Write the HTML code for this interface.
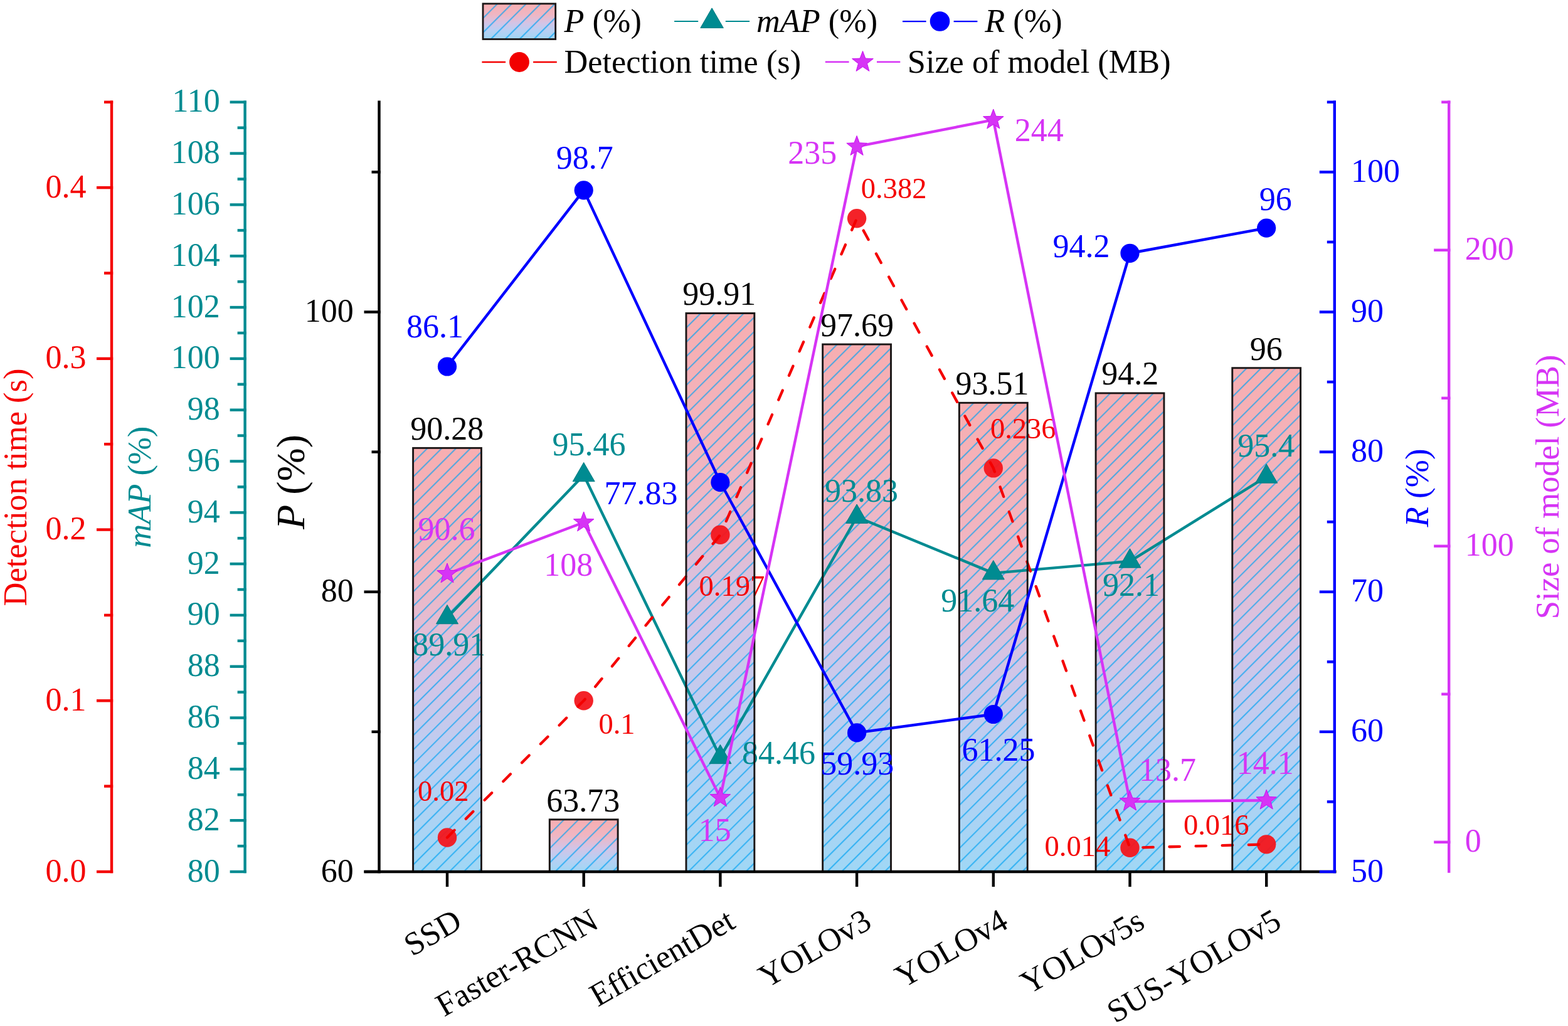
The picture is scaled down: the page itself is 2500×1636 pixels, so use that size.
<!DOCTYPE html>
<html><head><meta charset="utf-8"><title>Model comparison chart</title>
<style>html,body{margin:0;padding:0;background:#fff;overflow:hidden}svg{display:block}text{font-family:"Liberation Serif","Times New Roman",serif}</style></head><body>
<svg width="2500" height="1636" viewBox="0 0 2500 1636">
<defs>
<linearGradient id="g" x1="0" y1="0" x2="0" y2="1"><stop offset="0" stop-color="#f7aeb1"/><stop offset="0.3" stop-color="#f0b6c2"/><stop offset="0.55" stop-color="#d3c4e6"/><stop offset="0.75" stop-color="#b8cff3"/><stop offset="1" stop-color="#a0d7f5"/></linearGradient>
<pattern id="h0" width="16.2" height="16.2" patternUnits="userSpaceOnUse" patternTransform="translate(658.58 714.37) rotate(45)"><path d="M0.3 -1V17.2M16.5 -1V17.2" stroke="#00a2f2" stroke-opacity="0.78" stroke-width="1.8"/></pattern>
<pattern id="h1" width="16.2" height="16.2" patternUnits="userSpaceOnUse" patternTransform="translate(876.28 1306.77) rotate(45)"><path d="M0.3 -1V17.2M16.5 -1V17.2" stroke="#00a2f2" stroke-opacity="0.78" stroke-width="1.8"/></pattern>
<pattern id="h2" width="16.2" height="16.2" patternUnits="userSpaceOnUse" patternTransform="translate(1093.98 499.5) rotate(45)"><path d="M0.3 -1V17.2M16.5 -1V17.2" stroke="#00a2f2" stroke-opacity="0.78" stroke-width="1.8"/></pattern>
<pattern id="h3" width="16.2" height="16.2" patternUnits="userSpaceOnUse" patternTransform="translate(1311.67 549.03) rotate(45)"><path d="M0.3 -1V17.2M16.5 -1V17.2" stroke="#00a2f2" stroke-opacity="0.78" stroke-width="1.8"/></pattern>
<pattern id="h4" width="16.2" height="16.2" patternUnits="userSpaceOnUse" patternTransform="translate(1529.38 642.3) rotate(45)"><path d="M0.3 -1V17.2M16.5 -1V17.2" stroke="#00a2f2" stroke-opacity="0.78" stroke-width="1.8"/></pattern>
<pattern id="h5" width="16.2" height="16.2" patternUnits="userSpaceOnUse" patternTransform="translate(1747.08 626.9) rotate(45)"><path d="M0.3 -1V17.2M16.5 -1V17.2" stroke="#00a2f2" stroke-opacity="0.78" stroke-width="1.8"/></pattern>
<pattern id="h6" width="16.2" height="16.2" patternUnits="userSpaceOnUse" patternTransform="translate(1964.77 586.74) rotate(45)"><path d="M0.3 -1V17.2M16.5 -1V17.2" stroke="#00a2f2" stroke-opacity="0.78" stroke-width="1.8"/></pattern>
<pattern id="hl" width="16.2" height="16.2" patternUnits="userSpaceOnUse" patternTransform="translate(770 5.9) rotate(45)"><path d="M0.3 -1V17.2M16.5 -1V17.2" stroke="#00a2f2" stroke-opacity="0.78" stroke-width="1.8"/></pattern>
</defs>
<rect width="2500" height="1636" fill="#fff"/>
<rect x="658.58" y="714.37" width="108.85" height="675.63" fill="url(#g)"/>
<rect x="658.58" y="714.37" width="108.85" height="675.63" fill="url(#h0)"/>
<rect x="876.28" y="1306.77" width="108.85" height="83.23" fill="url(#g)"/>
<rect x="876.28" y="1306.77" width="108.85" height="83.23" fill="url(#h1)"/>
<rect x="1093.98" y="499.5" width="108.85" height="890.5" fill="url(#g)"/>
<rect x="1093.98" y="499.5" width="108.85" height="890.5" fill="url(#h2)"/>
<rect x="1311.67" y="549.03" width="108.85" height="840.97" fill="url(#g)"/>
<rect x="1311.67" y="549.03" width="108.85" height="840.97" fill="url(#h3)"/>
<rect x="1529.38" y="642.3" width="108.85" height="747.7" fill="url(#g)"/>
<rect x="1529.38" y="642.3" width="108.85" height="747.7" fill="url(#h4)"/>
<rect x="1747.08" y="626.9" width="108.85" height="763.1" fill="url(#g)"/>
<rect x="1747.08" y="626.9" width="108.85" height="763.1" fill="url(#h5)"/>
<rect x="1964.77" y="586.74" width="108.85" height="803.26" fill="url(#g)"/>
<rect x="1964.77" y="586.74" width="108.85" height="803.26" fill="url(#h6)"/>
<polyline points="713,984.61 930.7,757.58 1148.4,1207.56 1366.1,824.26 1583.8,913.85 1801.5,895.03 2019.2,760.04" fill="none" stroke="#008b91" stroke-width="4.4" stroke-linejoin="round"/>
<polygon points="713,964.41 730.5,994.72 695.5,994.72" fill="#008b91" stroke="#007c82" stroke-width="1" stroke-linejoin="round"/>
<polygon points="930.7,737.38 948.2,767.69 913.2,767.69" fill="#008b91" stroke="#007c82" stroke-width="1" stroke-linejoin="round"/>
<polygon points="1148.4,1187.35 1165.9,1217.66 1130.9,1217.66" fill="#008b91" stroke="#007c82" stroke-width="1" stroke-linejoin="round"/>
<polygon points="1366.1,804.05 1383.6,834.36 1348.6,834.36" fill="#008b91" stroke="#007c82" stroke-width="1" stroke-linejoin="round"/>
<polygon points="1583.8,893.64 1601.3,923.95 1566.3,923.95" fill="#008b91" stroke="#007c82" stroke-width="1" stroke-linejoin="round"/>
<polygon points="1801.5,874.82 1819,905.13 1784,905.13" fill="#008b91" stroke="#007c82" stroke-width="1" stroke-linejoin="round"/>
<polygon points="2019.2,739.83 2036.7,770.14 2001.7,770.14" fill="#008b91" stroke="#007c82" stroke-width="1" stroke-linejoin="round"/>
<circle cx="713" cy="1335.46" r="15.2" fill="#f3161c" fill-opacity="0.95"/>
<circle cx="930.7" cy="1117.29" r="15.2" fill="#f3161c" fill-opacity="0.95"/>
<circle cx="1148.4" cy="852.76" r="15.2" fill="#f3161c" fill-opacity="0.95"/>
<circle cx="1366.1" cy="348.24" r="15.2" fill="#f3161c" fill-opacity="0.95"/>
<circle cx="1583.8" cy="746.4" r="15.2" fill="#f3161c" fill-opacity="0.95"/>
<circle cx="1801.5" cy="1351.82" r="15.2" fill="#f3161c" fill-opacity="0.95"/>
<circle cx="2019.2" cy="1346.37" r="15.2" fill="#f3161c" fill-opacity="0.95"/>
<polyline points="713,1335.46 930.7,1117.29 1148.4,852.76 1366.1,348.24 1583.8,746.4 1801.5,1351.82 2019.2,1346.37" fill="none" stroke="#f40000" stroke-width="4.3" stroke-linejoin="round" stroke-linecap="round" stroke-dasharray="16.4 25.75"/>
<text x="657.19" y="1045.2" font-size="52" fill="#008b91">89.91</text>
<text x="880.53" y="726.2" font-size="52" fill="#008b91">95.46</text>
<text x="1182.9" y="1217.5" font-size="52" fill="#008b91">84.46</text>
<text x="1314.89" y="799.5" font-size="52" fill="#008b91">93.83</text>
<text x="1500.35" y="974.6" font-size="52" fill="#008b91">91.64</text>
<text x="1758.01" y="950.3" font-size="52" fill="#008b91">92.1</text>
<text x="1973.14" y="728.3" font-size="52" fill="#008b91">95.4</text>
<text x="666.02" y="1276.9" font-size="46.5" fill="#f40000">0.02</text>
<text x="954.46" y="1170.1" font-size="46.5" fill="#f40000">0.1</text>
<text x="1114.61" y="950.3" font-size="46.5" fill="#f40000">0.197</text>
<text x="1372.79" y="316.3" font-size="46.5" fill="#f40000">0.382</text>
<text x="1578.91" y="699.3" font-size="46.5" fill="#f40000">0.236</text>
<text x="1665.56" y="1365.1" font-size="46.5" fill="#f40000">0.014</text>
<text x="1886.91" y="1331.1" font-size="46.5" fill="#f40000">0.016</text>
<text x="666.43" y="860.7" font-size="52" fill="#d634f5">90.6</text>
<text x="867.3" y="918" font-size="52" fill="#d634f5">108</text>
<text x="1113.67" y="1340.8" font-size="52" fill="#d634f5">15</text>
<text x="1256.37" y="261" font-size="52" fill="#d634f5">235</text>
<text x="1617.72" y="225.2" font-size="52" fill="#d634f5">244</text>
<text x="1815.91" y="1245.4" font-size="52" fill="#d634f5">13.7</text>
<text x="1971.69" y="1233.5" font-size="52" fill="#d634f5">14.1</text>
<text x="654.33" y="700.7" font-size="52" fill="#000000">90.28</text>
<text x="871.34" y="1293.7" font-size="52" fill="#000000">63.73</text>
<text x="1088.21" y="486.2" font-size="52" fill="#000000">99.91</text>
<text x="1307.89" y="535.8" font-size="52" fill="#000000">97.69</text>
<text x="1523.51" y="629.2" font-size="52" fill="#000000">93.51</text>
<text x="1756.29" y="613.4" font-size="52" fill="#000000">94.2</text>
<text x="1992.84" y="573.6" font-size="52" fill="#000000">96</text>
<rect x="658.58" y="714.37" width="108.85" height="675.63" fill="none" stroke="#1b1616" stroke-width="2.9"/>
<rect x="876.28" y="1306.77" width="108.85" height="83.23" fill="none" stroke="#1b1616" stroke-width="2.9"/>
<rect x="1093.98" y="499.5" width="108.85" height="890.5" fill="none" stroke="#1b1616" stroke-width="2.9"/>
<rect x="1311.67" y="549.03" width="108.85" height="840.97" fill="none" stroke="#1b1616" stroke-width="2.9"/>
<rect x="1529.38" y="642.3" width="108.85" height="747.7" fill="none" stroke="#1b1616" stroke-width="2.9"/>
<rect x="1747.08" y="626.9" width="108.85" height="763.1" fill="none" stroke="#1b1616" stroke-width="2.9"/>
<rect x="1964.77" y="586.74" width="108.85" height="803.26" fill="none" stroke="#1b1616" stroke-width="2.9"/>
<polyline points="713,584.51 930.7,303.37 1148.4,769.04 1366.1,1168.43 1583.8,1138.98 1801.5,403.78 2019.2,363.61" fill="none" stroke="#0000ff" stroke-width="4.4" stroke-linejoin="round"/>
<circle cx="713" cy="584.51" r="15.1" fill="#0000ff"/>
<circle cx="930.7" cy="303.37" r="15.1" fill="#0000ff"/>
<circle cx="1148.4" cy="769.04" r="15.1" fill="#0000ff"/>
<circle cx="1366.1" cy="1168.43" r="15.1" fill="#0000ff"/>
<circle cx="1583.8" cy="1138.98" r="15.1" fill="#0000ff"/>
<circle cx="1801.5" cy="403.78" r="15.1" fill="#0000ff"/>
<circle cx="2019.2" cy="363.61" r="15.1" fill="#0000ff"/>
<text x="647.88" y="537.7" font-size="52" fill="#0000ff">86.1</text>
<text x="886.84" y="268.7" font-size="52" fill="#0000ff">98.7</text>
<text x="963.55" y="803.7" font-size="52" fill="#0000ff">77.83</text>
<text x="1308.35" y="1235.4" font-size="52" fill="#0000ff">59.93</text>
<text x="1533.53" y="1213.2" font-size="52" fill="#0000ff">61.25</text>
<text x="1678.49" y="409.5" font-size="52" fill="#0000ff">94.2</text>
<text x="2007.84" y="334.6" font-size="52" fill="#0000ff">96</text>
<polyline points="713,915.17 930.7,833.04 1148.4,1272 1366.1,233.6 1583.8,191.12 1801.5,1278.14 2019.2,1276.25" fill="none" stroke="#d634f5" stroke-width="4.4" stroke-linejoin="round"/>
<polygon points="713,898.07 717.23,909.34 729.26,909.88 719.85,917.39 723.05,929 713,922.37 702.95,929 706.15,917.39 696.74,909.88 708.77,909.34" fill="#d634f5" stroke="#c810f0" stroke-width="1" stroke-linejoin="round"/>
<polygon points="930.7,815.94 934.93,827.22 946.96,827.76 937.55,835.26 940.75,846.87 930.7,840.24 920.65,846.87 923.85,835.26 914.44,827.76 926.47,827.22" fill="#d634f5" stroke="#c810f0" stroke-width="1" stroke-linejoin="round"/>
<polygon points="1148.4,1254.9 1152.63,1266.18 1164.66,1266.72 1155.25,1274.22 1158.45,1285.83 1148.4,1279.2 1138.35,1285.83 1141.55,1274.22 1132.14,1266.72 1144.17,1266.18" fill="#d634f5" stroke="#c810f0" stroke-width="1" stroke-linejoin="round"/>
<polygon points="1366.1,216.5 1370.33,227.78 1382.36,228.32 1372.95,235.82 1376.15,247.43 1366.1,240.8 1356.05,247.43 1359.25,235.82 1349.84,228.32 1361.87,227.78" fill="#d634f5" stroke="#c810f0" stroke-width="1" stroke-linejoin="round"/>
<polygon points="1583.8,174.02 1588.03,185.3 1600.06,185.84 1590.65,193.34 1593.85,204.95 1583.8,198.32 1573.75,204.95 1576.95,193.34 1567.54,185.84 1579.57,185.3" fill="#d634f5" stroke="#c810f0" stroke-width="1" stroke-linejoin="round"/>
<polygon points="1801.5,1261.04 1805.73,1272.31 1817.76,1272.85 1808.35,1280.36 1811.55,1291.97 1801.5,1285.34 1791.45,1291.97 1794.65,1280.36 1785.24,1272.85 1797.27,1272.31" fill="#d634f5" stroke="#c810f0" stroke-width="1" stroke-linejoin="round"/>
<polygon points="2019.2,1259.15 2023.43,1270.42 2035.46,1270.96 2026.05,1278.47 2029.25,1290.08 2019.2,1283.45 2009.15,1290.08 2012.35,1278.47 2002.94,1270.96 2014.97,1270.42" fill="#d634f5" stroke="#c810f0" stroke-width="1" stroke-linejoin="round"/>
<line x1="178" y1="160.6" x2="178" y2="1392.2" stroke="#f40000" stroke-width="4.4"/>
<line x1="154" y1="1390" x2="180.2" y2="1390" stroke="#f40000" stroke-width="4.4"/>
<text x="137.6" y="1405.5" font-size="52" fill="#f40000" text-anchor="end">0.0</text>
<line x1="166" y1="1253.64" x2="180.2" y2="1253.64" stroke="#f40000" stroke-width="4.4"/>
<line x1="154" y1="1117.29" x2="180.2" y2="1117.29" stroke="#f40000" stroke-width="4.4"/>
<text x="137.6" y="1132.79" font-size="52" fill="#f40000" text-anchor="end">0.1</text>
<line x1="166" y1="980.93" x2="180.2" y2="980.93" stroke="#f40000" stroke-width="4.4"/>
<line x1="154" y1="844.58" x2="180.2" y2="844.58" stroke="#f40000" stroke-width="4.4"/>
<text x="137.6" y="860.08" font-size="52" fill="#f40000" text-anchor="end">0.2</text>
<line x1="166" y1="708.22" x2="180.2" y2="708.22" stroke="#f40000" stroke-width="4.4"/>
<line x1="154" y1="571.87" x2="180.2" y2="571.87" stroke="#f40000" stroke-width="4.4"/>
<text x="137.6" y="587.37" font-size="52" fill="#f40000" text-anchor="end">0.3</text>
<line x1="166" y1="435.51" x2="180.2" y2="435.51" stroke="#f40000" stroke-width="4.4"/>
<line x1="154" y1="299.16" x2="180.2" y2="299.16" stroke="#f40000" stroke-width="4.4"/>
<text x="137.6" y="314.66" font-size="52" fill="#f40000" text-anchor="end">0.4</text>
<line x1="166" y1="162.8" x2="180.2" y2="162.8" stroke="#f40000" stroke-width="4.4"/>
<line x1="390.6" y1="160.6" x2="390.6" y2="1392.2" stroke="#008b91" stroke-width="4.4"/>
<line x1="366.6" y1="1390" x2="392.8" y2="1390" stroke="#008b91" stroke-width="4.4"/>
<text x="350.65" y="1405.5" font-size="52" fill="#008b91" text-anchor="end">80</text>
<line x1="378.6" y1="1349.09" x2="392.8" y2="1349.09" stroke="#008b91" stroke-width="4.4"/>
<line x1="366.6" y1="1308.19" x2="392.8" y2="1308.19" stroke="#008b91" stroke-width="4.4"/>
<text x="350.65" y="1323.69" font-size="52" fill="#008b91" text-anchor="end">82</text>
<line x1="378.6" y1="1267.28" x2="392.8" y2="1267.28" stroke="#008b91" stroke-width="4.4"/>
<line x1="366.6" y1="1226.37" x2="392.8" y2="1226.37" stroke="#008b91" stroke-width="4.4"/>
<text x="350.65" y="1241.87" font-size="52" fill="#008b91" text-anchor="end">84</text>
<line x1="378.6" y1="1185.47" x2="392.8" y2="1185.47" stroke="#008b91" stroke-width="4.4"/>
<line x1="366.6" y1="1144.56" x2="392.8" y2="1144.56" stroke="#008b91" stroke-width="4.4"/>
<text x="350.65" y="1160.06" font-size="52" fill="#008b91" text-anchor="end">86</text>
<line x1="378.6" y1="1103.65" x2="392.8" y2="1103.65" stroke="#008b91" stroke-width="4.4"/>
<line x1="366.6" y1="1062.75" x2="392.8" y2="1062.75" stroke="#008b91" stroke-width="4.4"/>
<text x="350.65" y="1078.25" font-size="52" fill="#008b91" text-anchor="end">88</text>
<line x1="378.6" y1="1021.84" x2="392.8" y2="1021.84" stroke="#008b91" stroke-width="4.4"/>
<line x1="366.6" y1="980.93" x2="392.8" y2="980.93" stroke="#008b91" stroke-width="4.4"/>
<text x="350.65" y="996.43" font-size="52" fill="#008b91" text-anchor="end">90</text>
<line x1="378.6" y1="940.03" x2="392.8" y2="940.03" stroke="#008b91" stroke-width="4.4"/>
<line x1="366.6" y1="899.12" x2="392.8" y2="899.12" stroke="#008b91" stroke-width="4.4"/>
<text x="350.65" y="914.62" font-size="52" fill="#008b91" text-anchor="end">92</text>
<line x1="378.6" y1="858.21" x2="392.8" y2="858.21" stroke="#008b91" stroke-width="4.4"/>
<line x1="366.6" y1="817.31" x2="392.8" y2="817.31" stroke="#008b91" stroke-width="4.4"/>
<text x="350.65" y="832.81" font-size="52" fill="#008b91" text-anchor="end">94</text>
<line x1="378.6" y1="776.4" x2="392.8" y2="776.4" stroke="#008b91" stroke-width="4.4"/>
<line x1="366.6" y1="735.49" x2="392.8" y2="735.49" stroke="#008b91" stroke-width="4.4"/>
<text x="350.65" y="750.99" font-size="52" fill="#008b91" text-anchor="end">96</text>
<line x1="378.6" y1="694.59" x2="392.8" y2="694.59" stroke="#008b91" stroke-width="4.4"/>
<line x1="366.6" y1="653.68" x2="392.8" y2="653.68" stroke="#008b91" stroke-width="4.4"/>
<text x="350.65" y="669.18" font-size="52" fill="#008b91" text-anchor="end">98</text>
<line x1="378.6" y1="612.77" x2="392.8" y2="612.77" stroke="#008b91" stroke-width="4.4"/>
<line x1="366.6" y1="571.87" x2="392.8" y2="571.87" stroke="#008b91" stroke-width="4.4"/>
<text x="350.65" y="587.37" font-size="52" fill="#008b91" text-anchor="end">100</text>
<line x1="378.6" y1="530.96" x2="392.8" y2="530.96" stroke="#008b91" stroke-width="4.4"/>
<line x1="366.6" y1="490.05" x2="392.8" y2="490.05" stroke="#008b91" stroke-width="4.4"/>
<text x="350.65" y="505.55" font-size="52" fill="#008b91" text-anchor="end">102</text>
<line x1="378.6" y1="449.15" x2="392.8" y2="449.15" stroke="#008b91" stroke-width="4.4"/>
<line x1="366.6" y1="408.24" x2="392.8" y2="408.24" stroke="#008b91" stroke-width="4.4"/>
<text x="350.65" y="423.74" font-size="52" fill="#008b91" text-anchor="end">104</text>
<line x1="378.6" y1="367.33" x2="392.8" y2="367.33" stroke="#008b91" stroke-width="4.4"/>
<line x1="366.6" y1="326.43" x2="392.8" y2="326.43" stroke="#008b91" stroke-width="4.4"/>
<text x="350.65" y="341.93" font-size="52" fill="#008b91" text-anchor="end">106</text>
<line x1="378.6" y1="285.52" x2="392.8" y2="285.52" stroke="#008b91" stroke-width="4.4"/>
<line x1="366.6" y1="244.61" x2="392.8" y2="244.61" stroke="#008b91" stroke-width="4.4"/>
<text x="350.65" y="260.11" font-size="52" fill="#008b91" text-anchor="end">108</text>
<line x1="378.6" y1="203.71" x2="392.8" y2="203.71" stroke="#008b91" stroke-width="4.4"/>
<line x1="366.6" y1="162.8" x2="392.8" y2="162.8" stroke="#008b91" stroke-width="4.4"/>
<text x="350.65" y="178.3" font-size="52" fill="#008b91" text-anchor="end">110</text>
<line x1="604.5" y1="160.6" x2="604.5" y2="1392.2" stroke="#000000" stroke-width="4.4"/>
<line x1="580.5" y1="1390" x2="606.7" y2="1390" stroke="#000000" stroke-width="4.4"/>
<text x="563.85" y="1405.5" font-size="52" fill="#000000" text-anchor="end">60</text>
<line x1="592.5" y1="1166.87" x2="606.7" y2="1166.87" stroke="#000000" stroke-width="4.4"/>
<line x1="580.5" y1="943.75" x2="606.7" y2="943.75" stroke="#000000" stroke-width="4.4"/>
<text x="563.85" y="959.25" font-size="52" fill="#000000" text-anchor="end">80</text>
<line x1="592.5" y1="720.62" x2="606.7" y2="720.62" stroke="#000000" stroke-width="4.4"/>
<line x1="580.5" y1="497.49" x2="606.7" y2="497.49" stroke="#000000" stroke-width="4.4"/>
<text x="563.85" y="512.99" font-size="52" fill="#000000" text-anchor="end">100</text>
<line x1="592.5" y1="274.36" x2="606.7" y2="274.36" stroke="#000000" stroke-width="4.4"/>
<line x1="580.5" y1="1390" x2="2130.6" y2="1390" stroke="#000000" stroke-width="4.4"/>
<line x1="713" y1="1390" x2="713" y2="1414" stroke="#000000" stroke-width="4.4"/>
<line x1="930.7" y1="1390" x2="930.7" y2="1414" stroke="#000000" stroke-width="4.4"/>
<line x1="1148.4" y1="1390" x2="1148.4" y2="1414" stroke="#000000" stroke-width="4.4"/>
<line x1="1366.1" y1="1390" x2="1366.1" y2="1414" stroke="#000000" stroke-width="4.4"/>
<line x1="1583.8" y1="1390" x2="1583.8" y2="1414" stroke="#000000" stroke-width="4.4"/>
<line x1="1801.5" y1="1390" x2="1801.5" y2="1414" stroke="#000000" stroke-width="4.4"/>
<line x1="2019.2" y1="1390" x2="2019.2" y2="1414" stroke="#000000" stroke-width="4.4"/>
<line x1="2127.8" y1="160.6" x2="2127.8" y2="1392.2" stroke="#0000ff" stroke-width="4.4"/>
<line x1="2103.8" y1="1390" x2="2130" y2="1390" stroke="#0000ff" stroke-width="4.4"/>
<text x="2154" y="1405.5" font-size="52" fill="#0000ff">50</text>
<line x1="2115.8" y1="1278.44" x2="2130" y2="1278.44" stroke="#0000ff" stroke-width="4.4"/>
<line x1="2103.8" y1="1166.87" x2="2130" y2="1166.87" stroke="#0000ff" stroke-width="4.4"/>
<text x="2154" y="1182.37" font-size="52" fill="#0000ff">60</text>
<line x1="2115.8" y1="1055.31" x2="2130" y2="1055.31" stroke="#0000ff" stroke-width="4.4"/>
<line x1="2103.8" y1="943.75" x2="2130" y2="943.75" stroke="#0000ff" stroke-width="4.4"/>
<text x="2154" y="959.25" font-size="52" fill="#0000ff">70</text>
<line x1="2115.8" y1="832.18" x2="2130" y2="832.18" stroke="#0000ff" stroke-width="4.4"/>
<line x1="2103.8" y1="720.62" x2="2130" y2="720.62" stroke="#0000ff" stroke-width="4.4"/>
<text x="2154" y="736.12" font-size="52" fill="#0000ff">80</text>
<line x1="2115.8" y1="609.05" x2="2130" y2="609.05" stroke="#0000ff" stroke-width="4.4"/>
<line x1="2103.8" y1="497.49" x2="2130" y2="497.49" stroke="#0000ff" stroke-width="4.4"/>
<text x="2154" y="512.99" font-size="52" fill="#0000ff">90</text>
<line x1="2115.8" y1="385.93" x2="2130" y2="385.93" stroke="#0000ff" stroke-width="4.4"/>
<line x1="2103.8" y1="274.36" x2="2130" y2="274.36" stroke="#0000ff" stroke-width="4.4"/>
<text x="2154" y="289.86" font-size="52" fill="#0000ff">100</text>
<line x1="2115.8" y1="162.8" x2="2130" y2="162.8" stroke="#0000ff" stroke-width="4.4"/>
<line x1="2310.2" y1="160.6" x2="2310.2" y2="1391.7" stroke="#d634f5" stroke-width="4.4"/>
<line x1="2286.2" y1="1342.8" x2="2312.4" y2="1342.8" stroke="#d634f5" stroke-width="4.4"/>
<text x="2335.7" y="1358.3" font-size="52" fill="#d634f5">0</text>
<line x1="2298.2" y1="1106.8" x2="2312.4" y2="1106.8" stroke="#d634f5" stroke-width="4.4"/>
<line x1="2286.2" y1="870.8" x2="2312.4" y2="870.8" stroke="#d634f5" stroke-width="4.4"/>
<text x="2335.7" y="886.3" font-size="52" fill="#d634f5">100</text>
<line x1="2298.2" y1="634.8" x2="2312.4" y2="634.8" stroke="#d634f5" stroke-width="4.4"/>
<line x1="2286.2" y1="398.8" x2="2312.4" y2="398.8" stroke="#d634f5" stroke-width="4.4"/>
<text x="2335.7" y="414.3" font-size="52" fill="#d634f5">200</text>
<line x1="2298.2" y1="162.8" x2="2312.4" y2="162.8" stroke="#d634f5" stroke-width="4.4"/>
<text transform="translate(42 777) rotate(-90)" text-anchor="middle" font-size="52.5" fill="#f40000">Detection time (s)</text>
<text transform="translate(240 776.8) rotate(-90)" text-anchor="middle" font-size="52.5" fill="#008b91"><tspan font-style="italic">mAP</tspan> (%)</text>
<text transform="translate(484.8 768.4) rotate(-90)" text-anchor="middle" font-size="64" fill="#000000"><tspan font-style="italic">P</tspan> (%)</text>
<text transform="translate(2276.7 778) rotate(-90)" text-anchor="middle" font-size="53" fill="#0000ff"><tspan font-style="italic">R</tspan> (%)</text>
<text transform="translate(2484.8 776.5) rotate(-90)" text-anchor="middle" font-size="52.5" fill="#d634f5">Size of model (MB)</text>
<text transform="translate(739.5 1478) rotate(-30)" text-anchor="end" font-size="52" fill="#000">SSD</text>
<text transform="translate(957.2 1478) rotate(-30)" text-anchor="end" font-size="52" fill="#000">Faster-RCNN</text>
<text transform="translate(1174.9 1478) rotate(-30)" text-anchor="end" font-size="52" fill="#000">EfficientDet</text>
<text transform="translate(1392.6 1478) rotate(-30)" text-anchor="end" font-size="52" fill="#000">YOLOv3</text>
<text transform="translate(1610.3 1478) rotate(-30)" text-anchor="end" font-size="52" fill="#000">YOLOv4</text>
<text transform="translate(1828 1478) rotate(-30)" text-anchor="end" font-size="52" fill="#000">YOLOv5s</text>
<text transform="translate(2045.7 1478) rotate(-30)" text-anchor="end" font-size="52" fill="#000">SUS-YOLOv5</text>
<rect x="770" y="5.9" width="115.7" height="56.6" fill="url(#g)"/>
<rect x="770" y="5.9" width="115.7" height="56.6" fill="url(#hl)"/>
<rect x="770" y="5.9" width="115.7" height="56.6" fill="none" stroke="#1b1616" stroke-width="2.8"/>
<text x="899.4" y="51" font-size="52.3" fill="#000"><tspan font-style="italic">P</tspan> (%)</text>
<line x1="1075.1" y1="34" x2="1113.2" y2="34" stroke="#008b91" stroke-width="2.2"/>
<line x1="1156.8" y1="34" x2="1195.1" y2="34" stroke="#008b91" stroke-width="2.2"/>
<polygon points="1135.1,12.87 1153.4,44.57 1116.8,44.57" fill="#008b91" stroke="#007c82" stroke-width="1" stroke-linejoin="round"/>
<text x="1206.1" y="51" font-size="52.3" fill="#000"><tspan font-style="italic">mAP</tspan> (%)</text>
<line x1="1439" y1="34.2" x2="1476.6" y2="34.2" stroke="#0000ff" stroke-width="2.2"/>
<line x1="1520.6" y1="34.2" x2="1558.4" y2="34.2" stroke="#0000ff" stroke-width="2.2"/>
<circle cx="1498.5" cy="34" r="15.8" fill="#0000ff"/>
<text x="1570.2" y="51" font-size="52.3" fill="#000"><tspan font-style="italic">R</tspan> (%)</text>
<line x1="768.4" y1="99" x2="806.1" y2="99" stroke="#f40000" stroke-width="2.4"/>
<line x1="850.1" y1="99" x2="887.8" y2="99" stroke="#f40000" stroke-width="2.4"/>
<circle cx="828" cy="99" r="15.9" fill="#f20000"/>
<text x="899.5" y="116" font-size="52.3" fill="#000">Detection time (s)</text>
<line x1="1315.8" y1="98.8" x2="1353.6" y2="98.8" stroke="#d634f5" stroke-width="2.4"/>
<line x1="1398" y1="98.8" x2="1435.3" y2="98.8" stroke="#d634f5" stroke-width="2.4"/>
<polygon points="1375.5,81.4 1379.85,93.11 1392.33,93.63 1382.54,101.39 1385.9,113.42 1375.5,106.5 1365.1,113.42 1368.46,101.39 1358.67,93.63 1371.15,93.11" fill="#d634f5" stroke="#c810f0" stroke-width="1" stroke-linejoin="round"/>
<text x="1446.8" y="116" font-size="52.3" fill="#000">Size of model (MB)</text>
</svg></body></html>
